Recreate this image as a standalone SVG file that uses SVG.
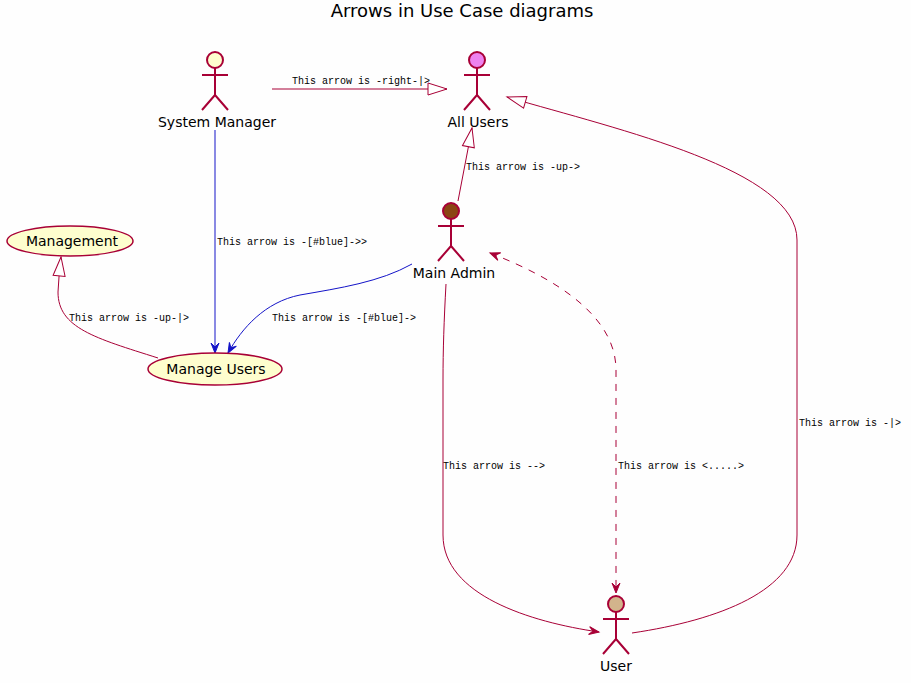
<svg xmlns="http://www.w3.org/2000/svg" width="911" height="683" viewBox="0 0 911 683">
<style>
.bg{fill:#FEFEFE}
.title{font-family:"DejaVu Sans",sans-serif;font-size:18px;fill:#000}
.lbl{font-family:"DejaVu Sans",sans-serif;font-size:14px;fill:#000}
.el{font-family:"Liberation Mono",monospace;font-size:10px;fill:#000}
.actor{stroke:#A80036;stroke-width:2;fill:none}
.uc{fill:#FEFECE;stroke:#A80036;stroke-width:1.5}
.c{fill:none;stroke:#A80036;stroke-width:1}
.cb{fill:none;stroke:#1414C8;stroke-width:1}
</style>
<defs>
<marker id="tri" markerUnits="userSpaceOnUse" markerWidth="24" markerHeight="16" refX="20" refY="7" orient="auto" overflow="visible">
<path d="M1,1 L20,7 L1,13 Z" fill="#FFFFFF" stroke="#A80036" stroke-width="1"/>
</marker>
<marker id="arr" markerUnits="userSpaceOnUse" markerWidth="14" markerHeight="12" refX="11" refY="5" orient="auto-start-reverse" overflow="visible">
<path d="M1,1 L11,5 L1,9 L5,5 Z" fill="#A80036" stroke="#A80036" stroke-width="1"/>
</marker>
<marker id="arrb" markerUnits="userSpaceOnUse" markerWidth="14" markerHeight="12" refX="11" refY="5" orient="auto" overflow="visible">
<path d="M1,1 L11,5 L1,9 L5,5 Z" fill="#1414C8" stroke="#1414C8" stroke-width="1"/>
</marker>
</defs>
<rect class="bg" x="0" y="0" width="911" height="683"/>
<text class="title" x="462" y="17" text-anchor="middle">Arrows in Use Case diagrams</text>

<g id="connectors">
<path class="c" d="M272,89 L447,89" marker-end="url(#tri)"/>
<path class="c" d="M458,201 L472,128" marker-end="url(#tri)"/>
<path class="cb" d="M215,130 L215,353" marker-end="url(#arrb)"/>
<path class="cb" d="M412,264 C380,282 340,288 300,295 C265,302 242,328 228,353" marker-end="url(#arrb)"/>
<path class="c" d="M158,358 C95,338 58,328 58,292 L59,277 L61,257" marker-end="url(#tri)"/>
<path class="c" d="M446,284 C444,320 443,350 443,380 L443,535 C443,595 530,622 599,632" marker-end="url(#arr)"/>
<path class="c" d="M490,253 C560,280 616,318 616,370 L616,593" stroke-dasharray="7,7" marker-start="url(#arr)" marker-end="url(#arr)"/>
<path class="c" d="M632,633 C720,620 797,590 797,535 L797,240 C797,170 620,130 507,97" marker-end="url(#tri)"/>
<text class="el" x="292" y="84">This arrow is -right-|&gt;</text>
<text class="el" x="466" y="170">This arrow is -up-&gt;</text>
<text class="el" x="217" y="245">This arrow is -[#blue]-&gt;&gt;</text>
<text class="el" x="272" y="321">This arrow is -[#blue]-&gt;</text>
<text class="el" x="69" y="321">This arrow is -up-|&gt;</text>
<text class="el" x="443" y="469">This arrow is --&gt;</text>
<text class="el" x="618" y="469">This arrow is &lt;.....&gt;</text>
<text class="el" x="799" y="426">This arrow is -|&gt;</text>
</g>

<g id="sysmanager">
<circle cx="215" cy="60" r="8" fill="#FEFECE" stroke="#A80036" stroke-width="2"/>
<path class="actor" d="M215,68 L215,95 M202,75 L228,75 M215,95 L202,110 M215,95 L228,110"/>
<text class="lbl" x="217" y="127" text-anchor="middle">System Manager</text>
</g>

<g id="allusers">
<circle cx="477" cy="60" r="8" fill="#EE82EE" stroke="#A80036" stroke-width="2"/>
<path class="actor" d="M477,68 L477,95 M464,75 L490,75 M477,95 L464,110 M477,95 L490,110"/>
<text class="lbl" x="478" y="127" text-anchor="middle">All Users</text>
</g>

<g id="mainadmin">
<circle cx="451" cy="211" r="8" fill="#8B4513" stroke="#A80036" stroke-width="2"/>
<path class="actor" d="M451,219 L451,246 M438,226 L464,226 M451,246 L438,261 M451,246 L464,261"/>
<text class="lbl" x="454" y="278" text-anchor="middle">Main Admin</text>
</g>

<g id="user">
<circle cx="616" cy="604" r="8" fill="#D2B48C" stroke="#A80036" stroke-width="2"/>
<path class="actor" d="M616,612 L616,639 M603,619 L629,619 M616,639 L603,654 M616,639 L629,654"/>
<text class="lbl" x="616" y="671" text-anchor="middle">User</text>
</g>

<g id="management">
<ellipse class="uc" cx="70" cy="241" rx="63" ry="15"/>
<text class="lbl" x="72" y="246" text-anchor="middle">Management</text>
</g>

<g id="manageusers">
<ellipse class="uc" cx="215" cy="369" rx="67" ry="16"/>
<text class="lbl" x="216" y="374" text-anchor="middle">Manage Users</text>
</g>
</svg>
